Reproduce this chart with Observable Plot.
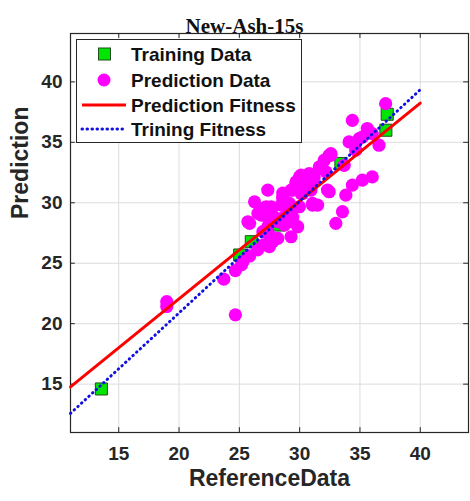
<!DOCTYPE html>
<html><head><meta charset="utf-8">
<script src="https://cdn.jsdelivr.net/npm/d3@7"></script>
<script src="https://cdn.jsdelivr.net/npm/@observablehq/plot@0.6"></script>
<style>
body{margin:0;background:#fff;}
#wrap{position:relative;width:470px;height:501px;}
#legend{position:absolute;left:76px;top:39px;width:224px;height:102px;border:1px solid #262626;background:#fff;}
</style></head><body><div id="wrap"></div>
<script>
const title = "New-Ash-15s";
const xLabel = "ReferenceData";
const yLabel = "Prediction";
const ticks = [15, 20, 25, 30, 35, 40];
const domainMin = 11, domainMax = 44;

const trainX = [13.56, 25.03, 25.99, 28.33, 33.42, 37.15, 37.26];
const trainY = [14.60, 25.68, 26.78, 28.16, 33.25, 36.00, 37.32];

const predX = [18.98, 18.98, 23.71, 24.67, 24.67, 25.30, 25.85, 25.17, 27.03, 27.77,
  25.85, 26.54, 26.26, 27.36, 28.05, 27.09, 27.64, 28.47, 29.15, 29.84,
  29.98, 26.95, 27.50, 28.60, 29.29, 29.70, 30.12, 30.80, 31.07, 30.25,
  31.07, 29.42, 31.63, 32.18, 32.45, 32.45, 33.83, 34.37, 33.55, 33.00,
  34.10, 37.13, 34.37, 35.61, 36.58, 35.20, 34.65, 36.02, 35.20, 30.25,
  32.31, 27.36, 27.09, 28.74, 29.29, 28.19, 26.95, 31.49, 30.66, 34.93,
  36.02, 32.59, 33.69, 29.98, 28.60, 27.64,
  25.71, 27.23, 27.64, 26.82, 28.60, 29.15, 29.42, 28.74, 27.50, 27.77,
  29.70, 30.53, 31.07, 30.94, 31.77, 32.04, 32.59, 31.21, 30.12, 29.42,
  29.15, 28.19, 26.51, 27.50];
const predY = [21.83, 21.42, 23.68, 24.39, 20.73, 25.13, 25.60, 24.86, 26.51, 26.78,
  28.30, 29.12, 30.08, 28.02, 28.71, 28.98, 29.67, 29.81, 28.71, 28.02,
  29.67, 29.26, 28.57, 30.49, 31.05, 31.60, 32.28, 32.42, 31.60, 30.77,
  29.95, 28.84, 32.97, 32.56, 33.93, 30.91, 30.63, 31.46, 29.26, 28.30,
  35.03, 38.20, 36.82, 36.14, 34.76, 35.44, 34.35, 32.14, 31.87, 31.46,
  31.05, 31.05, 29.53, 28.16, 27.19, 27.06, 27.61, 29.81, 31.32, 35.31,
  35.72, 33.93, 33.10, 32.14, 30.80, 29.40,
  28.43, 29.67, 29.26, 28.98, 30.36, 29.95, 28.43, 28.84, 27.33, 26.92,
  31.73, 31.73, 29.81, 31.05, 32.84, 33.52, 34.07, 32.14, 30.77, 31.05,
  29.40, 28.43, 26.10, 26.37];

const fitX = [11, 40];
const predFitY = [14.78, 38.24];
const trainFitY = [12.58, 39.35];

const legendLabels = ["Training Data", "Prediction Data", "Prediction Fitness", "Trining Fitness"];

const train = trainX.map((x, i) => ({x, y: trainY[i]}));
const pred = predX.map((x, i) => ({x, y: predY[i]}));
const fitP = fitX.map((x, i) => ({x, y: predFitY[i]}));
const fitT = fitX.map((x, i) => ({x, y: trainFitY[i]}));

const sans = "'Liberation Sans', Arial, sans-serif";
const ink = "#262626";

const chart = Plot.plot({
  width: 470, height: 501,
  marginLeft: 70, marginRight: 2, marginTop: 33, marginBottom: 69,
  style: {fontFamily: sans, background: "white", color: ink, fontSize: "19px"},
  x: {domain: [domainMin, domainMax]},
  y: {domain: [domainMin, domainMax]},
  marks: [
    Plot.gridX(ticks, {stroke: "#dcdcdc", strokeOpacity: 1}),
    Plot.gridY(ticks, {stroke: "#dcdcdc", strokeOpacity: 1}),
    Plot.axisX(ticks, {tickSize: 0, tickPadding: 14, fontSize: 19, fontWeight: "bold", fill: ink, label: null}),
    Plot.axisY(ticks, {tickSize: 0, tickPadding: 8, fontSize: 19, fontWeight: "bold", fill: ink, label: null}),
    Plot.ruleX(ticks, {x: d => d, y1: domainMin, y2: domainMin + 0.4, stroke: ink}),
    Plot.ruleX(ticks, {x: d => d, y1: domainMax, y2: domainMax - 0.4, stroke: ink}),
    Plot.ruleY(ticks, {y: d => d, x1: domainMin, x2: domainMin + 0.4, stroke: ink}),
    Plot.ruleY(ticks, {y: d => d, x1: domainMax, x2: domainMax - 0.4, stroke: ink}),
    Plot.frame({stroke: ink, strokeWidth: 1.2}),
    Plot.dot(train, {x: "x", y: "y", symbol: "square", r: 6.8, fill: "#00e600", stroke: "#1f4f1f", strokeWidth: 1}),
    Plot.dot(pred, {x: "x", y: "y", r: 6.6, fill: "#ff00ff"}),
    Plot.line(fitP, {x: "x", y: "y", stroke: "#ff0000", strokeWidth: 3}),
    Plot.line(fitT, {x: "x", y: "y", stroke: "#1010e0", strokeWidth: 3, strokeLinecap: "round", strokeDasharray: "0.5,4.5"}),
    Plot.text([title], {frameAnchor: "top", dy: -15, dx: -25, fontFamily: "'Liberation Serif', 'Times New Roman', serif", fontWeight: "bold", fontSize: 21, fill: "#111"}),
    Plot.text([xLabel], {frameAnchor: "bottom", dy: 53, fontWeight: "bold", fontSize: 23, fill: ink}),
    Plot.text([yLabel], {frameAnchor: "left", rotate: -90, dx: -50, dy: -14, fontWeight: "bold", fontSize: 23, fill: ink})
  ]
});
const wrap = document.getElementById("wrap");
wrap.appendChild(chart);

// legend
const leg = d3.select(wrap).append("div").attr("id", "legend");
const ls = leg.append("svg").attr("width", 224).attr("height", 102);
const rows = [14, 40, 65, 89];
legendLabels.forEach((lab, i) => {
  const y = rows[i];
  if (i === 0) ls.append("rect").attr("x", 21.5).attr("y", y - 6).attr("width", 12).attr("height", 12).attr("fill", "#00e600").attr("stroke", "#1f4f1f");
  if (i === 1) ls.append("circle").attr("cx", 27).attr("cy", y).attr("r", 6.5).attr("fill", "#ff00ff");
  if (i === 2) ls.append("line").attr("x1", 5).attr("x2", 49).attr("y1", y).attr("y2", y).attr("stroke", "#ff0000").attr("stroke-width", 3);
  if (i === 3) ls.append("line").attr("x1", 5).attr("x2", 49).attr("y1", y).attr("y2", y).attr("stroke", "#1010e0").attr("stroke-width", 3).attr("stroke-linecap", "round").attr("stroke-dasharray", "0.5,4.5");
  ls.append("text").attr("x", 54).attr("y", y).attr("dy", "0.35em").attr("font-family", sans).attr("font-weight", "bold").attr("font-size", 19).attr("fill", "#111").text(lab);
});
</script></body></html>
